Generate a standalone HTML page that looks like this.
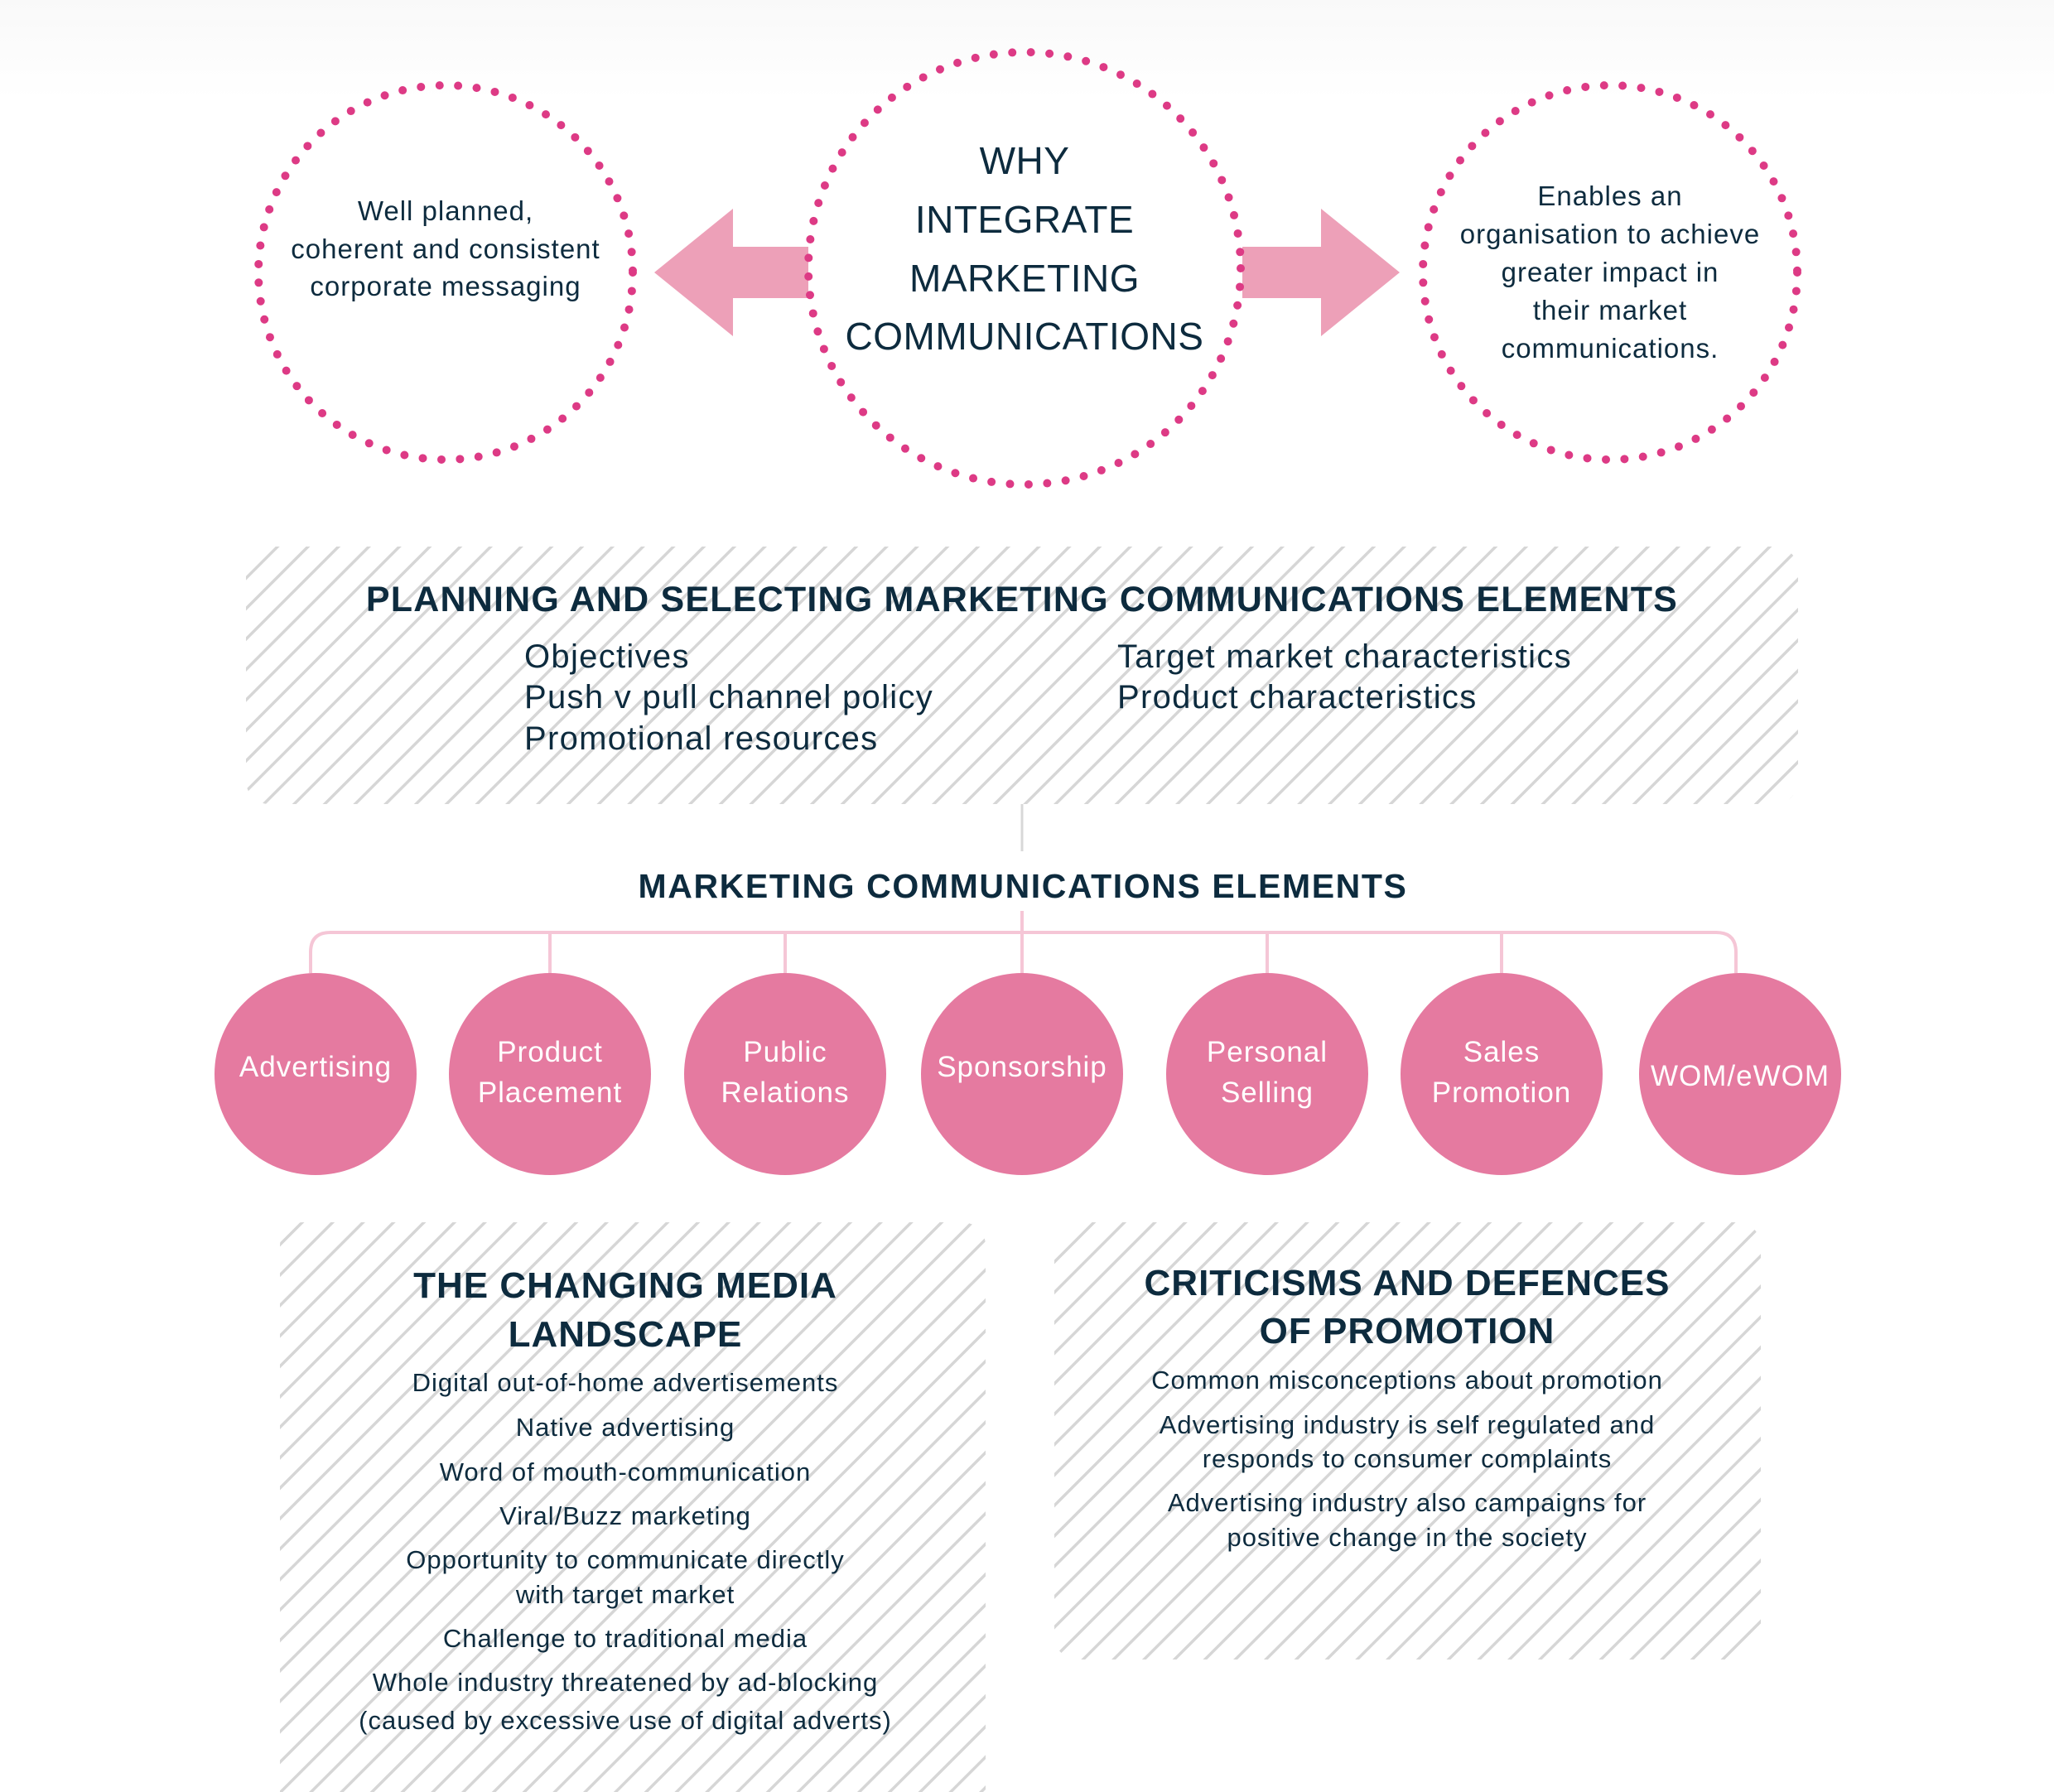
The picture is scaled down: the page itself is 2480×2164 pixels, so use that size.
<!DOCTYPE html>
<html><head><meta charset="utf-8"><style>
html,body{margin:0;padding:0;background:#fff}
svg{display:block}
text{font-family:"Liberation Sans","DejaVu Sans",sans-serif;fill:#0d2b3e}
</style></head><body>
<svg width="2480" height="2164" viewBox="0 0 2480 2164" xmlns="http://www.w3.org/2000/svg">
<defs>
<pattern id="h" patternUnits="userSpaceOnUse" width="26" height="26" patternTransform="rotate(45)">
<rect width="26" height="26" fill="#fff"/>
<rect x="0" y="0" width="3.5" height="26" fill="#d6d6d6"/>
</pattern>
<linearGradient id="bg" x1="0" y1="0" x2="0" y2="1"><stop offset="0" stop-color="#f9f9f9"/><stop offset="1" stop-color="#ffffff"/></linearGradient>
</defs>
<rect x="0" y="0" width="2480" height="120" fill="url(#bg)"/>

<polygon points="790,329 885,252 885,298 976,298 976,360 885,360 885,406" fill="#eda0b8"/>
<polygon points="1690,329 1595,252 1595,298 1500,298 1500,360 1595,360 1595,406" fill="#eda0b8"/>

<g fill="none" stroke="#dd3a85" stroke-width="10" stroke-linecap="round" stroke-dasharray="0 22.5">
<circle cx="538" cy="329" r="226"/>
<circle cx="1237" cy="324" r="261"/>
<circle cx="1944" cy="329" r="226"/>
</g>

<g font-size="33" text-anchor="middle" letter-spacing="1">
<text x="538" y="266">Well planned,</text>
<text x="538" y="312">coherent and consistent</text>
<text x="538" y="357">corporate messaging</text>
<text x="1944" y="248">Enables an</text>
<text x="1944" y="294">organisation to achieve</text>
<text x="1944" y="340">greater impact in</text>
<text x="1944" y="386">their market</text>
<text x="1944" y="432">communications.</text>
</g>
<g font-size="46" text-anchor="middle" letter-spacing="0.5">
<text x="1237" y="210">WHY</text>
<text x="1237" y="281">INTEGRATE</text>
<text x="1237" y="352">MARKETING</text>
<text x="1237" y="422">COMMUNICATIONS</text>
</g>

<rect x="297" y="660" width="1874" height="311" rx="28" fill="url(#h)"/>
<text x="1234" y="738" font-size="43" font-weight="bold" text-anchor="middle" letter-spacing="1.2">PLANNING AND SELECTING MARKETING COMMUNICATIONS ELEMENTS</text>
<g font-size="40" letter-spacing="1.3">
<text x="633" y="806">Objectives</text>
<text x="633" y="855">Push v pull channel policy</text>
<text x="633" y="905">Promotional resources</text>
<text x="1349" y="806">Target market characteristics</text>
<text x="1349" y="855">Product characteristics</text>
</g>
<line x1="1234" y1="971" x2="1234" y2="1028" stroke="#d8d8d8" stroke-width="3"/>

<text x="1235" y="1084" font-size="41" font-weight="bold" text-anchor="middle" letter-spacing="1.6">MARKETING COMMUNICATIONS ELEMENTS</text>

<g fill="none" stroke="#f5c6d6" stroke-width="4">
<path d="M375,1175 V1150 Q375,1126 399,1126 H2072 Q2096,1126 2096,1150 V1175"/>
<line x1="664" y1="1126" x2="664" y2="1175"/>
<line x1="948" y1="1126" x2="948" y2="1175"/>
<line x1="1234" y1="1100" x2="1234" y2="1175"/>
<line x1="1530" y1="1126" x2="1530" y2="1175"/>
<line x1="1813" y1="1126" x2="1813" y2="1175"/>
</g>
<g fill="#e57aa0">
<circle cx="381" cy="1297" r="122"/>
<circle cx="664" cy="1297" r="122"/>
<circle cx="948" cy="1297" r="122"/>
<circle cx="1234" cy="1297" r="122"/>
<circle cx="1530" cy="1297" r="122"/>
<circle cx="1813" cy="1297" r="122"/>
<circle cx="2101" cy="1297" r="122"/>
</g>
<g font-size="35" text-anchor="middle" letter-spacing="1">
<text x="381" y="1300" style="fill:#fff">Advertising</text>
<text x="664" y="1282" style="fill:#fff">Product</text>
<text x="664" y="1331" style="fill:#fff">Placement</text>
<text x="948" y="1282" style="fill:#fff">Public</text>
<text x="948" y="1331" style="fill:#fff">Relations</text>
<text x="1234" y="1300" style="fill:#fff">Sponsorship</text>
<text x="1530" y="1282" style="fill:#fff">Personal</text>
<text x="1530" y="1331" style="fill:#fff">Selling</text>
<text x="1813" y="1282" style="fill:#fff">Sales</text>
<text x="1813" y="1331" style="fill:#fff">Promotion</text>
<text x="2101" y="1311" style="fill:#fff">WOM/eWOM</text>
</g>

<rect x="338" y="1476" width="852" height="720" rx="28" fill="url(#h)"/>
<rect x="1273" y="1476" width="853" height="528" rx="28" fill="url(#h)"/>

<g font-size="44" font-weight="bold" text-anchor="middle" letter-spacing="1">
<text x="755" y="1567">THE CHANGING MEDIA</text>
<text x="755" y="1626">LANDSCAPE</text>
<text x="1699" y="1564">CRITICISMS AND DEFENCES</text>
<text x="1699" y="1622">OF PROMOTION</text>
</g>
<g font-size="31" text-anchor="middle" letter-spacing="1">
<text x="755" y="1680">Digital out-of-home advertisements</text>
<text x="755" y="1734">Native advertising</text>
<text x="755" y="1788">Word of mouth-communication</text>
<text x="755" y="1841">Viral/Buzz marketing</text>
<text x="755" y="1894">Opportunity to communicate directly</text>
<text x="755" y="1936">with target market</text>
<text x="755" y="1989">Challenge to traditional media</text>
<text x="755" y="2042">Whole industry threatened by ad-blocking</text>
<text x="755" y="2088">(caused by excessive use of digital adverts)</text>
<text x="1699" y="1677">Common misconceptions about promotion</text>
<text x="1699" y="1731">Advertising industry is self regulated and</text>
<text x="1699" y="1772">responds to consumer complaints</text>
<text x="1699" y="1825">Advertising industry also campaigns for</text>
<text x="1699" y="1867">positive change in the society</text>
</g>
</svg>
</body></html>
